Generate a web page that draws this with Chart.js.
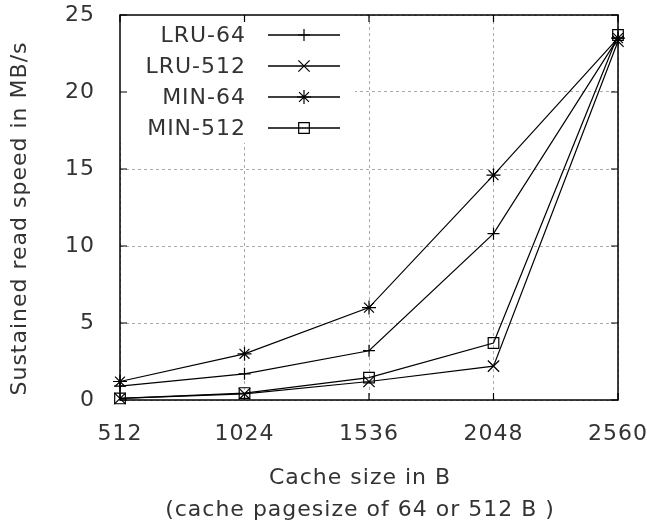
<!DOCTYPE html>
<html>
<head>
<meta charset="utf-8">
<script src="https://cdn.jsdelivr.net/npm/chart.js@4.4.1/dist/chart.umd.min.js"></script>
<style>
  html, body { margin: 0; padding: 0; background: #fff; }
  #wrap { width: 647px; height: 527px; }
</style>
</head>
<body>
<div id="wrap"><canvas id="chart" width="647" height="527"></canvas></div>
<script>
// data
const cacheSizes = [512, 1024, 1536, 2048, 2560];
const lru64 = [0.9, 1.7, 3.2, 10.8, 23.5];
const lru512 = [0.1, 0.4, 1.2, 2.2, 23.3];
const min64 = [1.2, 3.0, 6.0, 14.6, 23.5];
const min512 = [0.1, 0.45, 1.45, 3.7, 23.7];
const seriesNames = ["LRU-64", "LRU-512", "MIN-64", "MIN-512"];
const yTicks = [0, 5, 10, 15, 20, 25];
const xTitle = ["Cache size in B", "(cache pagesize of 64 or 512 B )"];
const yTitle = "Sustained read speed in MB/s";

const FONT = "'DejaVu Sans', sans-serif";
const TEXT = "#333";
const FSIZE = 22;

function toPoints(values) {
  return values.map((v, i) => ({ x: cacheSizes[i], y: v }));
}

/* marker for the legend, same shapes as chart.js pointStyles */
function drawMarker(ctx, style, x, y, r) {
  ctx.beginPath();
  if (style === "cross" || style === "star") {
    ctx.moveTo(x - r, y); ctx.lineTo(x + r, y);
    ctx.moveTo(x, y - r); ctx.lineTo(x, y + r);
  }
  if (style === "crossRot" || style === "star") {
    const d = r * Math.SQRT1_2;
    ctx.moveTo(x - d, y - d); ctx.lineTo(x + d, y + d);
    ctx.moveTo(x - d, y + d); ctx.lineTo(x + d, y - d);
  }
  if (style === "rect") {
    const s = r * Math.SQRT1_2;
    ctx.rect(x - s, y - s, 2 * s, 2 * s);
  }
  ctx.stroke();
}

/* gnuplot-ish text: slightly spaced letters */
const spacing = {
  id: "spacing",
  beforeUpdate(chart) { chart.ctx.letterSpacing = "1px"; },
  beforeDraw(chart) { chart.ctx.letterSpacing = "1px"; }
};

/* legend box inside the plot + axis titles */
const boxLegend = {
  id: "boxLegend",
  beforeDatasetsDraw(chart) {
    const ctx = chart.ctx;
    const a = chart.chartArea;
    ctx.save();
    ctx.fillStyle = "#fff";
    ctx.fillRect(a.left, a.top, 235, 128);
    ctx.font = FSIZE + "px " + FONT;
    ctx.textAlign = "right";
    ctx.textBaseline = "middle";
    chart.data.datasets.forEach((ds, i) => {
      const y = a.top + 20 + i * 31;
      ctx.fillStyle = TEXT;
      ctx.fillText(ds.label, a.left + 126, y + 1);
      ctx.strokeStyle = "#000";
      ctx.lineWidth = 1.3;
      ctx.beginPath();
      ctx.moveTo(a.left + 148, y);
      ctx.lineTo(a.left + 220, y);
      ctx.stroke();
      ctx.lineWidth = 1.2;
      drawMarker(ctx, ds.pointStyle, a.left + 184, y, ds.pointRadius);
    });

    // axis titles
    ctx.textAlign = "center";
    ctx.fillStyle = TEXT;
    const cx = (a.left + a.right) / 2 - 9;
    ctx.fillText(xTitle[0], cx, a.bottom + 78);
    ctx.fillText(xTitle[1], cx, a.bottom + 110);
    ctx.translate(20, (a.top + a.bottom) / 2 + 11);
    ctx.rotate(-Math.PI / 2);
    ctx.fillText(yTitle, 0, 0);
    ctx.restore();
  }
};

/* frame + inner tick marks on all four sides */
const frame = {
  id: "frame",
  afterDatasetsDraw(chart) {
    const ctx = chart.ctx;
    const a = chart.chartArea;
    const xs = chart.scales.x, ys = chart.scales.y;
    const tl = 7;
    ctx.save();
    ctx.strokeStyle = "#000";
    ctx.lineWidth = 1.5;
    ctx.strokeRect(a.left, a.top, a.right - a.left, a.bottom - a.top);
    ctx.lineWidth = 1.2;
    ctx.beginPath();
    xs.ticks.forEach(t => {
      const px = xs.getPixelForValue(t.value);
      ctx.moveTo(px, a.bottom); ctx.lineTo(px, a.bottom - tl);
      ctx.moveTo(px, a.top); ctx.lineTo(px, a.top + tl);
    });
    ys.ticks.forEach(t => {
      const py = ys.getPixelForValue(t.value);
      ctx.moveTo(a.left, py); ctx.lineTo(a.left + tl, py);
      ctx.moveTo(a.right, py); ctx.lineTo(a.right - tl, py);
    });
    ctx.stroke();
    ctx.restore();
  }
};

function noScalePadding(s) {
  s.paddingLeft = 0; s.paddingRight = 0;
  s.paddingTop = 0; s.paddingBottom = 0;
}

const lineStyle = {
  borderColor: "#000",
  borderWidth: 1.2,
  pointBorderColor: "#000",
  pointBackgroundColor: "rgba(0,0,0,0)",
  pointBorderWidth: 1.2,
  fill: false,
  tension: 0,
  clip: false
};

new Chart(document.getElementById("chart"), {
  type: "line",
  data: {
    datasets: [
      { ...lineStyle, label: seriesNames[0], data: toPoints(lru64), pointStyle: "cross", pointRadius: 6 },
      { ...lineStyle, label: seriesNames[1], data: toPoints(lru512), pointStyle: "crossRot", pointRadius: 8 },
      { ...lineStyle, label: seriesNames[2], data: toPoints(min64), pointStyle: "star", pointRadius: 7 },
      { ...lineStyle, label: seriesNames[3], data: toPoints(min512), pointStyle: "rect", pointRadius: 7.5 }
    ]
  },
  options: {
    responsive: false,
    animation: false,
    layout: { padding: { top: 15, right: 29, left: 0, bottom: 0 } },
    plugins: {
      legend: { display: false },
      tooltip: { enabled: false }
    },
    scales: {
      x: {
        type: "linear",
        min: cacheSizes[0],
        max: cacheSizes[cacheSizes.length - 1],
        afterBuildTicks: s => { s.ticks = cacheSizes.map(v => ({ value: v })); },
        afterFit: s => { s.height = 127; noScalePadding(s); },
        grid: { color: "#aaa", lineWidth: 1, drawTicks: false },
        border: { display: false, dash: [3, 3] },
        ticks: {
          padding: 21, color: TEXT, font: { family: FONT, size: FSIZE }, maxRotation: 0,
          callback: v => String(v)
        }
      },
      y: {
        min: yTicks[0],
        max: yTicks[yTicks.length - 1],
        afterBuildTicks: s => { s.ticks = yTicks.map(v => ({ value: v })); },
        afterFit: s => { s.width = 120; noScalePadding(s); },
        grid: { color: "#aaa", lineWidth: 1, drawTicks: false },
        border: { display: false, dash: [3, 3] },
        ticks: { padding: 25, color: TEXT, font: { family: FONT, size: FSIZE }, callback: v => String(v) }
      }
    }
  },
  plugins: [spacing, boxLegend, frame]
});
</script>
</body>
</html>
